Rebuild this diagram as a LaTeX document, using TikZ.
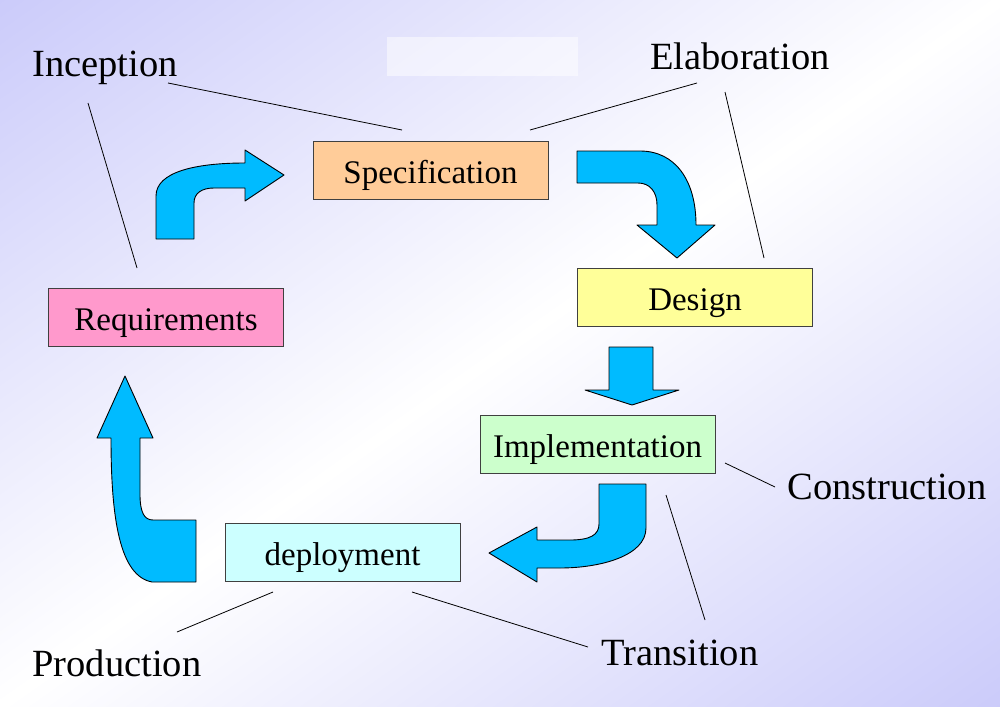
\documentclass[tikz,border=0pt]{standalone}
\usepackage{fontspec}
\setmainfont{Liberation Serif}
\usetikzlibrary{positioning}

\definecolor{lav}{RGB}{203,203,250}
\definecolor{flowblue}{RGB}{0,187,255}
\definecolor{specfill}{RGB}{255,204,153}
\definecolor{designfill}{RGB}{255,255,153}
\definecolor{reqfill}{RGB}{255,153,204}
\definecolor{implfill}{RGB}{204,255,204}
\definecolor{depfill}{RGB}{204,255,255}

\pgfdeclareverticalshading{bgfade}{100bp}{color(0bp)=(lav); color(25bp)=(lav);
    color(50bp)=(white); color(75bp)=(lav); color(100bp)=(lav)}

\tikzset{
    phase/.style={draw=black!75, line width=0.8pt, minimum width=235pt, minimum height=58pt,
        inner sep=0pt, text height=30pt, text depth=4pt, font=\fontsize{33}{40}\selectfont},
    stage/.style={inner sep=0pt, font=\fontsize{38.5}{46}\selectfont},
    flow/.style={fill=flowblue, draw=black, line width=0.9pt, line join=round},
    tie/.style={draw=black, line width=0.8pt}
}

\begin{document}
\begin{tikzpicture}[x=1pt, y=-1pt]
    \useasboundingbox (0,0) rectangle (1000,706);
    \begin{scope}
        \clip (0,0) rectangle (1000,706);
        \node[inner sep=0pt, transform shape, rotate=35.2, scale=23.1] (bgshade) at (500,353) {\pgfuseshading{bgfade}};
    \end{scope}
    \fill[white, opacity=0.5] (387,37) rectangle (578,76);

    % boxes
    \node[phase, fill=specfill] (spec) at (430.5,170) {Specification};
    \node[phase, fill=designfill] (design) at (695,297.5) {Design};
    \node[phase, fill=reqfill] (req) at (166,317) {Requirements};
    \node[phase, fill=implfill] (impl) at (597.5,444) {Implementation};
    \node[phase, fill=depfill] (dep) at (342.5,552.5) {deployment};

    % stage labels
    \node[stage] (incep) at (105,68) {Inception};
    \node[stage] (elab) at (740,56) {Elaboration};
    \node[stage] (constr) at (887,487) {Construction};
    \node[stage] (trans) at (680,653) {Transition};
    \node[stage] (prod) at (117,663) {Production};

    % arrows
    \draw[flow] (156,239) -- (156,196) .. controls (156,172) and (195,163) .. (245,163)
        -- (245,150) -- (284,175) -- (245,201) -- (245,188) -- (214,188)
        .. controls (202,188) and (194,193) .. (194,203) -- (194,239) -- cycle;
    \draw[flow] (577,151) -- (640,151) .. controls (675,151) and (696,180) .. (696,225)
        -- (715,225) -- (677,258) -- (637,225) -- (657,225) -- (657,205)
        .. controls (657,192) and (650,183) .. (638,183) -- (577,183) -- cycle;
    \draw[flow] (609,347) -- (653,347) -- (653,390) -- (679,390) -- (632,405)
        -- (585,390) -- (609,390) -- cycle;
    \draw[flow] (599,484) -- (646,484) -- (646,528) .. controls (646,556) and (600,568) .. (560,568)
        -- (537,568) -- (537,582) -- (489,553) -- (537,527) -- (537,540) -- (570,540)
        .. controls (590,540) and (599,535) .. (599,524) -- cycle;
    \draw[flow] (196,520) -- (196,582) -- (152,582) .. controls (120,576) and (111,520) .. (111,438)
        -- (97,438) -- (125,376) -- (153,438) -- (140,438) -- (140,494)
        .. controls (140,512) and (144,520) .. (153,520) -- cycle;

    % ties from stages to boxes
    \coordinate (i1) at (168,83);  \coordinate (i2) at (402,130);
    \coordinate (i3) at (88,103);  \coordinate (i4) at (137,268);
    \coordinate (e1) at (697,83);  \coordinate (e2) at (530,130);
    \coordinate (e3) at (725,92);  \coordinate (e4) at (764,258);
    \coordinate (c1) at (775,487); \coordinate (c2) at (725,463);
    \coordinate (t1) at (705,620); \coordinate (t2) at (666,495);
    \coordinate (t3) at (588,647); \coordinate (t4) at (412,592);
    \coordinate (p1) at (177,632); \coordinate (p2) at (273,592);
    \path[tie] (i1) -- (i2) (i3) -- (i4);
    \path[tie] (e1) -- (e2) (e3) -- (e4);
    \path[tie] (c1) -- (c2);
    \path[tie] (t1) -- (t2) (t3) -- (t4);
    \path[tie] (p1) -- (p2);
\end{tikzpicture}
\end{document}
